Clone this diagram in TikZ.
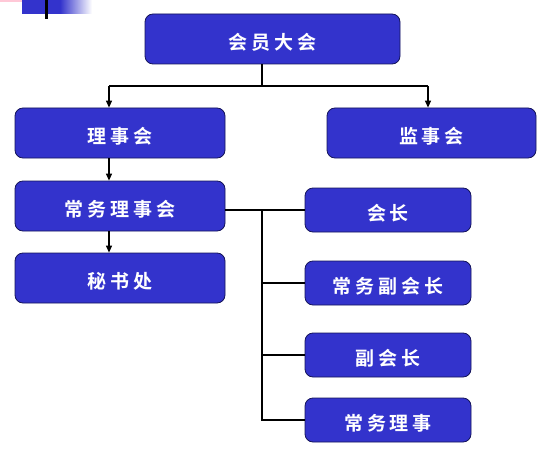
\documentclass[tikz,border=0pt]{standalone}
\usepackage{fontspec}
\newfontfamily\cjk{Noto Sans CJK SC}[BoldFont={Noto Sans CJK SC Bold}, LetterSpace=20]
\usetikzlibrary{arrows.meta}
\definecolor{boxblue}{RGB}{51,51,204}
\definecolor{boxedge}{RGB}{20,20,90}
\definecolor{barpink}{RGB}{255,200,215}
\tikzset{
  orgbox/.style={draw=boxedge, line width=0.8pt, fill=boxblue, rounded corners=8pt,
    text=white, font=\cjk\bfseries\fontsize{19}{21}\selectfont, inner sep=0pt,
    text height=21pt, text depth=0pt},
  link/.style={line width=1.2pt, black},
  arr/.style={link, -{Triangle[length=7pt,width=6pt]}}
}
\begin{document}
\begin{tikzpicture}[x=1pt,y=-1pt]
\useasboundingbox (0,0) rectangle (537,457);
% top-left decoration
\fill[barpink] (0,0) rectangle (35,2);
\shade[left color=boxblue, right color=white] (60,0) rectangle (92,14);
\fill[boxblue] (22,0) rectangle (60,14);
\fill[black] (45,0) rectangle (48,19);
% boxes
\node[orgbox, minimum width=255pt, minimum height=50pt] (hy) at (272.5,39) {会员大会};
\node[orgbox, minimum width=210pt, minimum height=50pt] (lsh) at (120,133) {理事会};
\node[orgbox, minimum width=209pt, minimum height=50pt] (jsh) at (431.5,133) {监事会};
\node[orgbox, minimum width=210pt, minimum height=50pt] (cw) at (120,206) {常务理事会};
\node[orgbox, minimum width=210pt, minimum height=50pt] (ms) at (120,278) {秘书处};
\node[orgbox, minimum width=166pt, minimum height=44pt] (hz) at (388,210) {会长};
\node[orgbox, minimum width=166pt, minimum height=44pt] (cf) at (388,283) {常务副会长};
\node[orgbox, minimum width=166pt, minimum height=44pt] (fh) at (388,355) {副会长};
\node[orgbox, minimum width=166pt, minimum height=44pt] (cl) at (388,420) {常务理事};
% connectors
\coordinate (j1) at (262,86);
\coordinate (jl) at (109,86);
\coordinate (jr) at (428,86);
\draw[link] (hy.south -| j1) -- (j1);
\draw[link] (jl) -- (jr);
\draw[arr] (jl) -- (jl |- lsh.north);
\draw[arr] (jr) -- (jr |- jsh.north);
\draw[arr] (lsh.south -| jl) -- (jl |- cw.north);
\draw[arr] (cw.south -| jl) -- (jl |- ms.north);
\coordinate (t) at (262,210);
\draw[link] (cw.east |- t) -- (hz.west |- t);
\draw[link] (t) -- (t |- cl.west) -- (cl.west);
\draw[link] (t |- cf.west) -- (cf.west);
\draw[link] (t |- fh.west) -- (fh.west);
\end{tikzpicture}
\end{document}
